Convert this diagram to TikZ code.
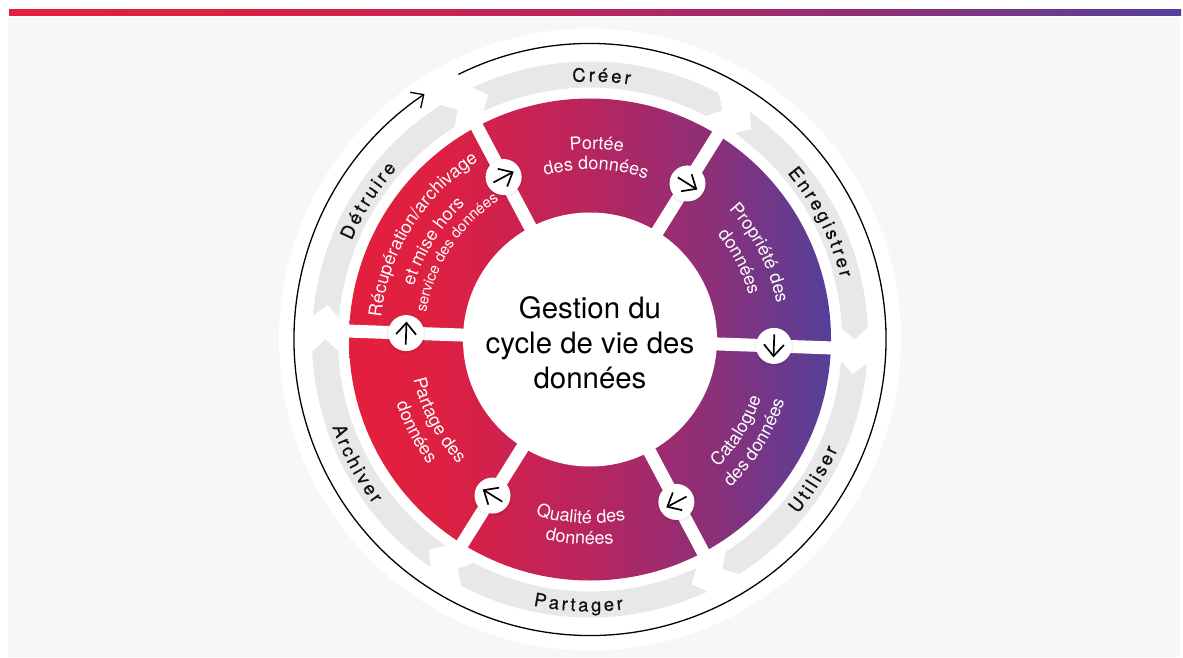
\documentclass[tikz,border=0pt]{standalone}
\usepackage{fontspec}
\setmainfont{TeX Gyre Heros}
\newfontfamily\outerfont[FakeBold=0.5]{TeX Gyre Heros}
\usetikzlibrary{arrows.meta,calc,decorations.text}
\definecolor{panelgray}{HTML}{F7F7F7}
\definecolor{bandgray}{HTML}{E8E8E8}
\definecolor{inkblack}{HTML}{111111}
\definecolor{gA}{HTML}{E31F3C}
\definecolor{gB}{HTML}{DD2042}
\definecolor{gC}{HTML}{B8255F}
\definecolor{gD}{HTML}{8A3079}
\definecolor{gE}{HTML}{54409A}
\pgfdeclarehorizontalshading{ringgrad}{100bp}{color(0bp)=(gA);color(25bp)=(gA);color(35bp)=(gB);color(50bp)=(gC);color(63bp)=(gD);color(75bp)=(gE);color(100bp)=(gE)}
\tikzset{
  bandarrow/.style={fill=bandgray,draw=none},
  gapline/.style={white,line width=13pt},
  btn/.style={circle,fill=white,minimum size=36pt,inner sep=0pt},
  btnshadow/.style={circle,fill=black,opacity=.06,minimum size=39pt,inner sep=0pt},
  btnarrow/.style={line width=1.7pt,black,-{Straight Barb[length=11.5pt,width=20pt,line width=1.7pt]}},
  ringarrow/.style={line width=1.3pt,black,-{Straight Barb[length=10pt,width=19pt,line width=1.3pt]}},
}
% clockwise text (tops outward): centre angle, radius, font, text
\newcommand{\cwtext}[4]{\path[postaction={decorate},decoration={text along path,text align=center,text format delimiters={|}{|},text={|#3|#4}}] (#1+45:#2) arc[start angle=#1+45,end angle=#1-45,radius=#2];}
% counter-clockwise text (tops towards the centre)
\newcommand{\ccwtext}[4]{\path[postaction={decorate},decoration={text along path,text align=center,text format delimiters={|}{|},text={|#3|#4}}] (#1-45:#2) arc[start angle=#1-45,end angle=#1+45,radius=#2];}
\newcommand{\gf}{\color{inkblack}\outerfont\fontsize{18.5}{18}\selectfont}
\newcommand{\wf}{\color{white}\fontsize{18}{18}\selectfont}
\newcommand{\wsf}{\color{white}\fontsize{15}{15}\selectfont}
\newcommand{\sk}{\kern2.8pt}
\begin{document}
\begin{tikzpicture}[x=1pt,y=1pt]
\useasboundingbox (0,0) rectangle (1183,657);
\fill[panelgray] (8,0) rectangle (1180,640);
\shade[shading=ringgrad] (9,641) rectangle (1181,647);
\begin{scope}[shift={(590,317.5)}]
  \fill[white] (0,0) circle[radius=311];
  % grey chevron band
  \foreach \t in {60,0,-60,-120,-180,-240}{
    \fill[bandarrow] (\t+55:278) arc[start angle=\t+55,end angle=\t+2.5,radius=278]
      -- (\t:265) -- (\t+2.5:252) arc[start angle=\t+2.5,end angle=\t+55,radius=252]
      -- (\t+52.5:265) -- cycle;
  }
  % outer arrow ring
  \draw[ringarrow] (116.4:296) arc[start angle=116.4,end angle=-236,radius=296];
  % coloured ring
  \shade[shading=ringgrad] (0,0) circle[radius=241];
  \foreach \a in {118,58,-2,-62,-122,178}{
    \draw[gapline] (\a:120) -- (\a:246);
  }
  \fill[white] (0,0) circle[radius=127];
  \node[font=\fontsize{29.4}{35}\selectfont,align=center,text=black] (title) at (0,-3.5) {Gestion du\\cycle de vie des\\données};
  % buttons
  \foreach \a/\n in {118/a,58/b,-2/c,-62/d,-122/e,178/f}{
    \node[btnshadow] at ($(\a:184)+(0,-1)$) {};
    \node[btn] (btn\n) at (\a:184) {};
    \pgfmathsetmacro{\d}{\a-90}
    \draw[btnarrow] ($(btn\n)+(\d:-11.5)$) -- ($(btn\n)+(\d:11.5)$);
  }
  % outer labels
  \cwtext{87.5}{258}{\gf}{{C\sk}{r\sk}{é\sk}{e\sk}{r}}
  \cwtext{27}{258}{\gf}{{E\sk}{n\sk}{r\sk}{e\sk}{g\sk}{i\sk}{s\sk}{t\sk}{r\sk}{e\sk}{r}}
  \ccwtext{-32}{271}{\gf}{{U\sk}{t\sk}{i\sk}{l\sk}{i\sk}{s\sk}{e\sk}{r}}
  \ccwtext{-92.5}{272}{\gf}{{P\sk}{a\sk}{r\sk}{t\sk}{a\sk}{g\sk}{e\sk}{r}}
  \ccwtext{-152}{272}{\gf}{{A\sk}{r\sk}{c\sk}{h\sk}{i\sk}{v\sk}{e\sk}{r}}
  \cwtext{148}{258}{\gf}{{D\sk}{é\sk}{t\sk}{r\sk}{u\sk}{i\sk}{r\sk}{e}}
  % ring labels
  \cwtext{88}{190}{\wf}{Portée}
  \cwtext{88}{170}{\wf}{des données}
  \cwtext{27}{190}{\wf}{Propriété des}
  \cwtext{27.5}{165}{\wf}{données}
  \ccwtext{-32}{181}{\wf}{Catalogue}
  \ccwtext{-32}{204}{\wf}{des données}
  \ccwtext{-93}{184}{\wf}{Qualité des}
  \ccwtext{-93}{205}{\wf}{données}
  \ccwtext{-152}{181}{\wf}{Partage des}
  \ccwtext{-152}{204}{\wf}{données}
  \cwtext{148}{210}{\wf}{Récupération/archivage}
  \cwtext{148}{184}{\wf}{et mise hors}
  \cwtext{147}{166}{\wsf}{service des données}
\end{scope}
\end{tikzpicture}
\end{document}
